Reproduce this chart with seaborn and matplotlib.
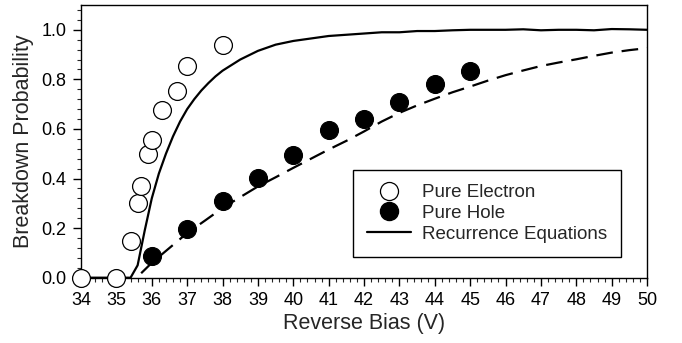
import numpy as np
import pandas as pd
import matplotlib
matplotlib.use("Agg")
import matplotlib.pyplot as plt
import seaborn as sns
from matplotlib.ticker import MultipleLocator
from matplotlib.lines import Line2D

# --- data ---
elec_v = [34.0, 35.0, 35.4, 35.6, 35.7, 35.9, 36.0, 36.3, 36.7, 37.0, 38.0]
elec_p = [0.0, 0.0, 0.15, 0.30, 0.37, 0.497, 0.557, 0.676, 0.752, 0.854, 0.94]

hole_v = [36.0, 37.0, 38.0, 39.0, 40.0, 41.0, 42.0, 43.0, 44.0, 45.0]
hole_p = [0.089, 0.198, 0.31, 0.402, 0.494, 0.594, 0.641, 0.71, 0.783, 0.833]

rec_e_v = [34.0, 35.4, 35.6, 35.8, 36.0, 36.2, 36.4, 36.6, 36.8, 37.0, 37.2, 37.4,
           37.6, 37.8, 38.0, 38.5, 39.0, 39.5, 40.0, 40.5, 41.0, 41.5, 42.0, 42.5,
           43.0, 43.5, 44.0, 44.5, 45.0, 45.5, 46.0, 46.5, 47.0, 47.5, 48.0, 48.5,
           49.0, 49.5, 50.0]
rec_e_p = [0.0, 0.0, 0.05, 0.19, 0.32, 0.42, 0.50, 0.57, 0.63, 0.68, 0.72, 0.755,
           0.785, 0.812, 0.835, 0.88, 0.915, 0.94, 0.955, 0.965, 0.975, 0.98, 0.985, 0.99,
           0.99, 0.995, 0.995, 0.998, 1.0, 1.0, 1.0, 1.002, 0.998, 1.0, 1.0, 0.998,
           1.003, 1.002, 1.0]

rec_h_v = [35.7, 36.0, 36.5, 37.0, 37.5, 38.0, 38.5, 39.0, 39.5, 40.0, 40.5, 41.0,
           41.5, 42.0, 42.5, 43.0, 43.5, 44.0, 44.5, 45.0, 45.5, 46.0, 46.5, 47.0,
           47.5, 48.0, 48.5, 49.0, 49.5, 50.0]
rec_h_p = [0.018, 0.06, 0.12, 0.18, 0.23, 0.281, 0.325, 0.368, 0.405, 0.443, 0.48, 0.517,
           0.552, 0.59, 0.63, 0.665, 0.695, 0.722, 0.748, 0.771, 0.795, 0.817, 0.836, 0.854,
           0.868, 0.881, 0.895, 0.908, 0.918, 0.926]

x_ticks = list(range(34, 51))
y_ticks = [0.0, 0.2, 0.4, 0.6, 0.8, 1.0]

sns.set_style("ticks")
plt.rcParams['font.family'] = ['Liberation Sans', 'DejaVu Sans']

fig = plt.figure(figsize=(6.82, 3.43), dpi=100)
ax = fig.add_axes([0.1188, 0.1904, 0.83, 0.795])

sns.lineplot(x=rec_e_v, y=rec_e_p, ax=ax, color='black', linewidth=1.6, zorder=2)
sns.lineplot(x=rec_h_v, y=rec_h_p, ax=ax, color='black', linewidth=1.6, zorder=2)
ax.lines[-1].set_dashes([7.5, 4])
sns.scatterplot(x=elec_v, y=elec_p, ax=ax, s=165, facecolor='white', edgecolor='black',
                linewidth=0.9, zorder=3, clip_on=False)
sns.scatterplot(x=hole_v, y=hole_p, ax=ax, s=165, color='black', edgecolor='black',
                linewidth=0.9, zorder=3)

ax.set_xlim(34, 50)
ax.set_ylim(0, 1.1)
ax.set_xticks(x_ticks)
ax.set_yticks(y_ticks)
ax.set_yticklabels([f"{t:.1f}" for t in y_ticks])
ax.xaxis.set_minor_locator(MultipleLocator(0.2))
ax.yaxis.set_minor_locator(MultipleLocator(0.04))
ax.tick_params(which='major', direction='out', length=5.5, width=1, labelsize=13,
               colors='black', pad=5)
ax.tick_params(which='minor', direction='out', length=3, width=0.8)
for s in ax.spines.values():
    s.set_linewidth(1)
    s.set_color('black')
    s.set_visible(True)

ax.set_xlabel("Reverse Bias (V)", fontsize=15.5, labelpad=3)
ax.set_ylabel("Breakdown Probability", fontsize=15.5, labelpad=5)

handles = [
    Line2D([], [], marker='o', linestyle='none', markersize=13, markerfacecolor='white',
           markeredgecolor='black', markeredgewidth=0.9),
    Line2D([], [], marker='o', linestyle='none', markersize=13, markerfacecolor='black',
           markeredgecolor='black'),
    Line2D([], [], color='black', linewidth=1.6),
]
leg = ax.legend(handles, ["Pure Electron", "Pure Hole", "Recurrence Equations"],
                loc='lower left', bbox_to_anchor=(0.481, 0.076), fontsize=13.5,
                frameon=True, fancybox=False, edgecolor='black', framealpha=1,
                handlelength=2.35, labelspacing=0.2, borderpad=0.75,
                handletextpad=0.55, borderaxespad=0)
leg.get_frame().set_linewidth(1)

fig.savefig("out.png", dpi=100)
